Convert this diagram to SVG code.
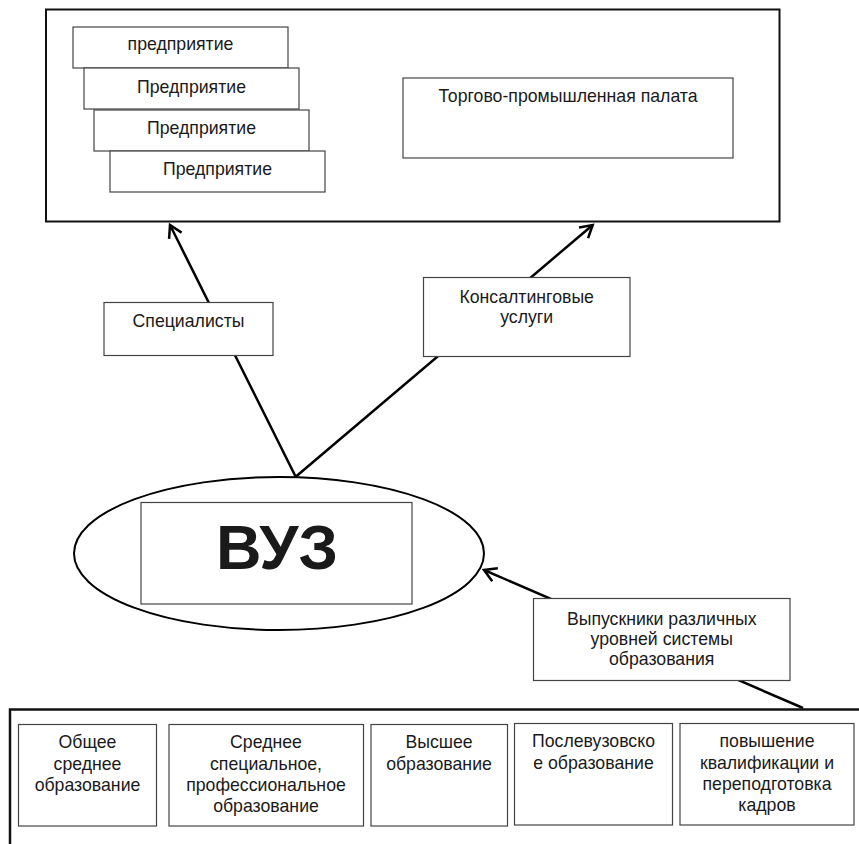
<svg xmlns="http://www.w3.org/2000/svg" width="859" height="844" viewBox="0 0 859 844">
<defs>
<style>
.box{fill:#fff;stroke:#444;stroke-width:1.2}
.frame{fill:none;stroke:#111;stroke-width:2}
.t{font-family:"Liberation Sans",Arial,sans-serif;font-size:17.7px;fill:#1a1a1a;text-anchor:middle}
.big{font-family:"Liberation Sans",Arial,sans-serif;font-size:63px;font-weight:bold;fill:#1a1a1a;text-anchor:middle}
.conn{fill:none;stroke:#000;stroke-width:2.5}
</style>
<marker id="ah" markerWidth="20" markerHeight="20" refX="15" refY="10" orient="auto" markerUnits="userSpaceOnUse">
<path d="M3,3 L15,10 L3,17" fill="none" stroke="#000" stroke-width="2.5"/>
</marker>
</defs>
<rect x="0" y="0" width="859" height="844" fill="#fff"/>

<g id="partners">
<rect class="frame" x="46" y="9.5" width="733.5" height="212"/>
</g>

<g id="connectors">
<line class="conn" x1="295.7" y1="476.7" x2="170" y2="225" marker-end="url(#ah)"/>
<line class="conn" x1="295.7" y1="476.7" x2="592.7" y2="225" marker-end="url(#ah)"/>
<line class="conn" x1="803" y1="708" x2="484" y2="570" marker-end="url(#ah)"/>
</g>

<g id="enterprise1">
<rect class="box" x="73" y="27" width="215" height="41"/>
<text class="t" x="180.5" y="50">предприятие</text>
</g>
<g id="enterprise2">
<rect class="box" x="84" y="68" width="215" height="41"/>
<text class="t" x="191.5" y="92.5">Предприятие</text>
</g>
<g id="enterprise3">
<rect class="box" x="94" y="110" width="215" height="41"/>
<text class="t" x="201.5" y="133.5">Предприятие</text>
</g>
<g id="enterprise4">
<rect class="box" x="110" y="151" width="215" height="41"/>
<text class="t" x="217.5" y="174.5">Предприятие</text>
</g>

<g id="chamber">
<rect class="box" x="403" y="78" width="330" height="80"/>
<text class="t" x="568" y="102">Торгово-промышленная палата</text>
</g>

<g id="specialists">
<rect class="box" x="104" y="302.5" width="169" height="53"/>
<text class="t" x="188.5" y="327">Специалисты</text>
</g>

<g id="consulting">
<rect class="box" x="423.5" y="277.5" width="206.5" height="79"/>
<text class="t" x="526.7" y="302.5">Консалтинговые</text>
<text class="t" x="526.7" y="323">услуги</text>
</g>

<g id="vuz">
<ellipse cx="279" cy="553.5" rx="205" ry="76.5" fill="#fff" stroke="#000" stroke-width="2"/>
<rect class="box" x="141" y="502.5" width="271" height="101.5"/>
<text class="big" x="277" y="569">ВУЗ</text>
</g>

<g id="graduates">
<rect class="box" x="533.5" y="598.5" width="256.5" height="82"/>
<text class="t" x="661.7" y="625">Выпускники различных</text>
<text class="t" x="661.7" y="645">уровней системы</text>
<text class="t" x="661.7" y="665">образования</text>
</g>

<g id="education-system">
<path d="M10,844 L10,709.5 L859,709.5" fill="none" stroke="#111" stroke-width="2.5"/>
</g>

<g id="general">
<rect class="box" x="18.5" y="724.5" width="138" height="101.5"/>
<text class="t" x="87.5" y="748">Общее</text>
<text class="t" x="87.5" y="769.5">среднее</text>
<text class="t" x="87.5" y="791">образование</text>
</g>
<g id="vocational">
<rect class="box" x="169" y="724.5" width="194.5" height="101.5"/>
<text class="t" x="266" y="748">Среднее</text>
<text class="t" x="266" y="769.5">специальное,</text>
<text class="t" x="266" y="791">профессиональное</text>
<text class="t" x="266" y="812">образование</text>
</g>
<g id="higher">
<rect class="box" x="371" y="724.5" width="136.5" height="101.5"/>
<text class="t" x="439" y="748">Высшее</text>
<text class="t" x="439" y="769.5">образование</text>
</g>
<g id="postgraduate">
<rect class="box" x="514.5" y="723.5" width="158" height="101.5"/>
<text class="t" x="593.5" y="747">Послевузовско</text>
<text class="t" x="593.5" y="768.5">е образование</text>
</g>
<g id="retraining">
<rect class="box" x="680" y="723.5" width="174" height="101.5"/>
<text class="t" x="767" y="747">повышение</text>
<text class="t" x="767" y="768.5">квалификации и</text>
<text class="t" x="767" y="790">переподготовка</text>
<text class="t" x="767" y="811">кадров</text>
</g>
</svg>
